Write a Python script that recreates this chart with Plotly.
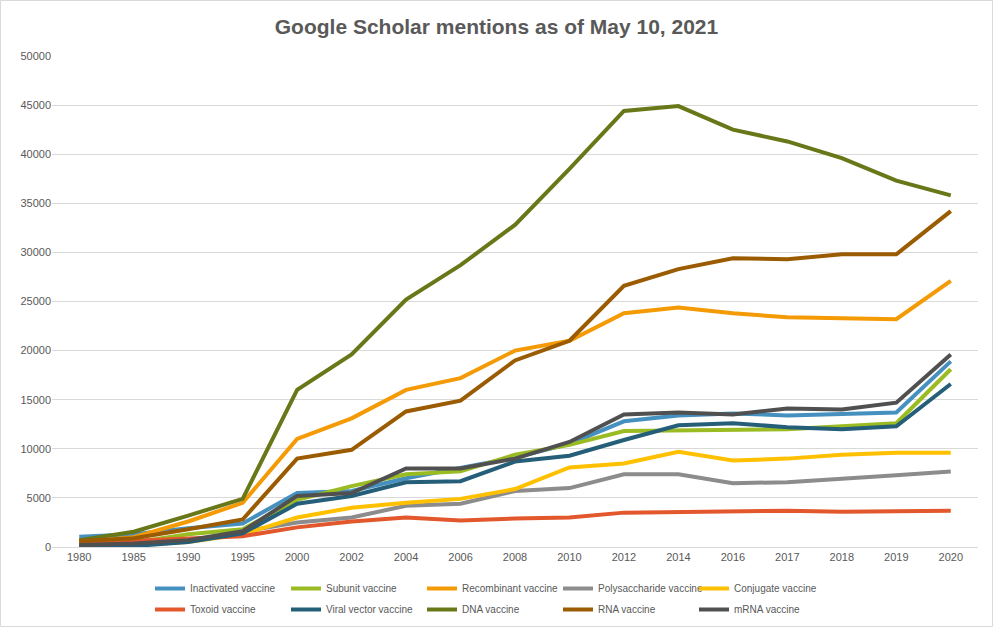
import plotly.graph_objects as go

years = ["1980", "1985", "1990", "1995", "2000", "2002", "2004", "2006", "2008",
         "2010", "2012", "2014", "2016", "2017", "2018", "2019", "2020"]

inactivated = [1050, 1300, 1900, 2400, 5500, 5700, 7000, 8100, 9100, 10500, 12800, 13400, 13600, 13400, 13600, 13700, 18900]
subunit = [300, 450, 1300, 1800, 4800, 6200, 7400, 7700, 9400, 10400, 11800, 11900, 11900, 12000, 12300, 12600, 18100]
recombinant = [500, 1000, 2600, 4500, 11000, 13100, 16000, 17200, 20000, 21000, 23800, 24400, 23800, 23400, 23300, 23200, 27100]
polysaccharide = [200, 300, 600, 1500, 2500, 3000, 4200, 4400, 5700, 6000, 7400, 7400, 6500, 6600, 6900, 7300, 7700]
conjugate = [100, 200, 500, 1300, 3000, 4000, 4500, 4900, 5900, 8100, 8500, 9700, 8800, 9000, 9400, 9600, 9600]
toxoid = [400, 600, 800, 1100, 2000, 2600, 3000, 2700, 2900, 3000, 3500, 3600, 3600, 3700, 3600, 3600, 3700]
viral_vector = [50, 100, 500, 1400, 4400, 5200, 6600, 6700, 8700, 9300, 10900, 12400, 12600, 12200, 12000, 12300, 16600]
dna = [700, 1550, 3200, 4900, 16000, 19600, 25200, 28700, 32800, 38500, 44400, 44900, 42500, 41300, 39600, 37300, 35800]
rna = [600, 900, 1800, 2800, 9000, 9900, 13800, 14900, 19000, 21000, 26600, 28300, 29400, 29300, 29800, 29800, 34200]
mrna = [200, 350, 700, 1600, 5200, 5500, 8000, 8000, 9000, 10700, 13500, 13700, 13500, 14100, 14000, 14700, 19600]

series_names = ["Inactivated vaccine", "Subunit vaccine", "Recombinant vaccine",
                "Polysaccharide vaccine", "Conjugate vaccine", "Toxoid vaccine",
                "Viral vector vaccine", "DNA vaccine", "RNA vaccine", "mRNA vaccine"]
series_values = [inactivated, subunit, recombinant, polysaccharide, conjugate,
                 toxoid, viral_vector, dna, rna, mrna]
colors = ["#4590BF", "#9BBB23", "#F49A05", "#8C8C8C", "#FFC000",
          "#E2572B", "#255E78", "#687818", "#9B5B00", "#505050"]

FONT = "Liberation Sans, sans-serif"

fig = go.Figure()
for i, (name, vals, col) in enumerate(zip(series_names, series_values, colors)):
    fig.add_trace(go.Scatter(x=years, y=vals, name=name, mode="lines",
                             line=dict(color=col, width=4),
                             legend="legend" if i < 5 else "legend2"))

L, R, T, B = 52, 15, 56, 80
W, H = 993, 627
pw, ph = W - L - R, H - T - B

leg_common = dict(orientation="h", xanchor="left", yanchor="top",
                  entrywidth=91, entrywidthmode="pixels",
                  font=dict(family=FONT, size=10, color="#595959"),
                  itemwidth=30, tracegroupgap=0, traceorder="normal",
                  bgcolor="rgba(0,0,0,0)")

fig.update_layout(
    width=W, height=H,
    margin=dict(l=L, r=R, t=T, b=B, autoexpand=False),
    paper_bgcolor="white", plot_bgcolor="white",
    title=dict(text="Google Scholar mentions as of May 10, 2021",
               x=0.5, xanchor="center", y=1 - 27 / H, yanchor="middle",
               font=dict(family="Liberation Sans, sans-serif", size=21, color="#595959", weight="bold")),
    font=dict(family=FONT, size=11, color="#595959"),
    showlegend=True,
    legend=dict(x=(150 - L) / pw, y=-27 / ph, **leg_common),
    legend2=dict(x=(150 - L) / pw, y=-48 / ph, **leg_common),
    xaxis=dict(type="category", range=[-0.5, len(years) - 0.5], showgrid=False,
               showline=True, linecolor="#d9d9d9",
               ticks="", tickfont=dict(family=FONT, size=11, color="#595959")),
    yaxis=dict(range=[0, 50000], dtick=5000, showgrid=True, gridcolor="#d9d9d9",
               zeroline=False, ticks="", tickformat="d",
               tickfont=dict(family=FONT, size=11, color="#595959")),
    shapes=[dict(type="rect", xref="paper", yref="paper",
                 x0=-(L - 0.5) / pw, x1=1 + (R - 0.5) / pw,
                 y0=-(B - 0.5) / ph, y1=1 + (T - 0.5) / ph,
                 line=dict(color="#d9d9d9", width=1), fillcolor="rgba(0,0,0,0)")],
)

fig.write_html("out.html", config={"displayModeBar": False},
               post_script="document.body.style.margin='0';document.body.style.overflow='hidden';")
